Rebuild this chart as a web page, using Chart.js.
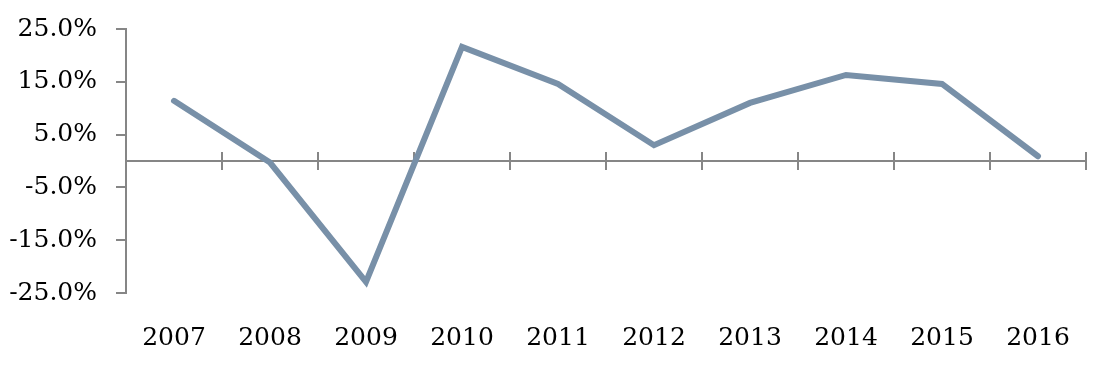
<!DOCTYPE html>
<html>
<head>
<meta charset="utf-8">
<script src="https://cdn.jsdelivr.net/npm/chart.js@4"></script>
<style>
  html, body { margin: 0; padding: 0; background: #fff; }
  #wrap { width: 1112px; height: 370px; }
</style>
</head>
<body>
<div id="wrap"><canvas id="chart"></canvas></div>
<script>
var years = ['2007', '2008', '2009', '2010', '2011', '2012', '2013', '2014', '2015', '2016'];
var growth = [11.4, -0.3, -22.9, 21.6, 14.6, 3.0, 11.0, 16.3, 14.6, 0.9];
var yTicks = [-25, -15, -5, 5, 15, 25];

var axisGray = '#868686';

// axis line at y = 0 with tick marks crossing it between the years
var zeroAxis = {
  id: 'zeroAxis',
  beforeDatasetsDraw: function (chart) {
    var ctx = chart.ctx;
    var x = chart.scales.x, y = chart.scales.y;
    var y0 = y.getPixelForValue(0);
    var half = (x.getPixelForValue(1) - x.getPixelForValue(0)) / 2;
    ctx.save();
    ctx.strokeStyle = axisGray;
    ctx.lineWidth = 2;
    ctx.beginPath();
    ctx.moveTo(chart.chartArea.left, y0);
    ctx.lineTo(chart.chartArea.right, y0);
    for (var i = 0; i < years.length; i++) {
      var px = Math.round(x.getPixelForValue(i) + half);
      ctx.moveTo(px, y0 - 9);
      ctx.lineTo(px, y0 + 9);
    }
    ctx.stroke();
    ctx.restore();
  }
};

new Chart(document.getElementById('chart'), {
  type: 'line',
  data: {
    labels: years,
    datasets: [
      {
        label: 'Growth',
        data: growth,
        borderColor: '#7890A8',
        borderWidth: 6,
        borderCapStyle: 'round',
        borderJoinStyle: 'miter',
        pointRadius: 0,
        tension: 0,
        fill: false
      }
    ]
  },
  plugins: [zeroAxis],
  options: {
    responsive: true,
    maintainAspectRatio: false,
    animation: false,
    layout: { padding: { top: 29, right: 26, bottom: 0, left: 0 } },
    plugins: {
      legend: { display: false },
      tooltip: { enabled: false }
    },
    scales: {
      x: {
        offset: true,
        grid: { display: false },
        border: { display: false },
        ticks: {
          padding: 22,
          color: '#000',
          font: { family: 'DejaVu Serif', size: 25 }
        },
        afterFit: function (s) {
          s.height = 77;
          s.paddingLeft = 0;
          s.paddingRight = 0;
        }
      },
      y: {
        min: -25,
        max: 25,
        afterBuildTicks: function (s) {
          s.ticks = yTicks.map(function (v) { return { value: v }; });
        },
        grid: { drawOnChartArea: false, tickLength: 10, color: axisGray, lineWidth: 2 },
        border: { color: axisGray, width: 2 },
        ticks: {
          padding: 19,
          color: '#000',
          font: { family: 'DejaVu Serif', size: 25 },
          callback: function (v) { return v.toFixed(1) + '%'; }
        },
        afterFit: function (s) {
          s.width = 126;
          s.paddingTop = 0;
          s.paddingBottom = 0;
        }
      }
    }
  }
});
</script>
</body>
</html>
